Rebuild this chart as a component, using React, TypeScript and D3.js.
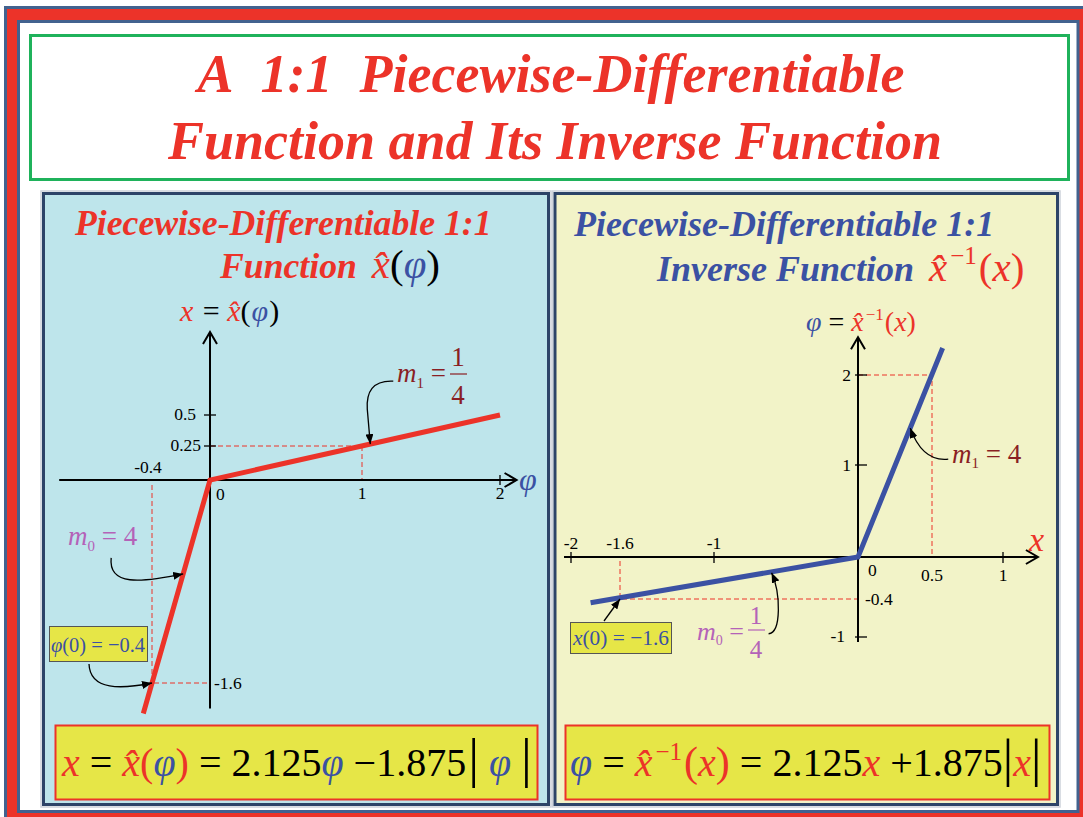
import React from 'react';
import * as d3 from 'd3';

// ---------- data ----------
// forward function x = x̂(φ) (left panel)
const fwdPhi = [-0.46, 0, 2];
const fwdX = [-1.84, 0, 0.5];
const leftPhiTicks = [-0.4, 0, 1, 2];
const leftPhiLabels = ['-0.4', '0', '1', '2'];
const leftXTicks = [-1.6, 0.25, 0.5];
const leftXLabels = ['-1.6', '0.25', '0.5'];
// inverse function φ = x̂⁻¹(x) (right panel)
const invX = [-1.84, 0, 0.575];
const invPhi = [-0.46, 0, 2.3];
const rightXTicks = [-2, -1.6, -1, 0, 0.5, 1];
const rightXLabels = ['-2', '-1.6', '-1', '0', '0.5', '1'];
const rightPhiTicks = [-1, -0.4, 1, 2];
const rightPhiLabels = ['-1', '-0.4', '1', '2'];

const SERIF = '"Liberation Serif", "Times New Roman", Times, serif';
const RED = '#ec3329';
const BLUE = '#3b51a3';
const DRED = '#8a1f24';
const PURPLE = '#b462b8';
const NAVY = '#2d4468';
const FRAME = '#42628f';
const YEL = '#e6e647';

type Seg = { t: string; fill?: string; it?: boolean; b?: boolean; fs?: number; dx?: number; dy?: number };

function Txt({ x, y, fs, segs, anchor = 'start', tl }: { x: number; y: number; fs: number; segs: Seg[]; anchor?: string; tl?: number }) {
  return (
    <text x={x} y={y} fontSize={fs} fontFamily={SERIF} textAnchor={anchor as any} style={{ whiteSpace: 'pre' }}
      textLength={tl} lengthAdjust={tl ? 'spacingAndGlyphs' : undefined}>
      {segs.map((s, i) => (
        <tspan key={i} fill={s.fill ?? '#000'} fontStyle={s.it ? 'italic' : 'normal'} fontWeight={s.b ? 'bold' : 'normal'}
          fontSize={s.fs} dx={s.dx} dy={s.dy}>{s.t}</tspan>
      ))}
    </text>
  );
}

// x with a hat, as one glyph cluster (x + combining circumflex)
const xhat = (fs: number, color: string): Seg[] => [
  { t: 'x\u0302', fill: color, it: true, fs },
];

const PHI = '\u03C6';
const MINUS = '\u2212';

export default function App() {
  // scales (hand-drawn spacing → polylinear)
  const lx = d3.scaleLinear().domain([-0.4, 0, 1, 2]).range([152, 210, 362, 500]);
  const ly = d3.scaleLinear().domain([-1.6, 0, 0.25, 0.5]).range([683, 480, 446, 415]);
  const rx = d3.scaleLinear().domain([-2, -1.6, -1, 0, 0.5, 1]).range([571, 620, 714, 858, 932, 1003]);
  const ry = d3.scaleLinear().domain([-1, -0.4, 0, 1, 2]).range([637, 599, 557, 465, 375]);

  const line = d3.line<[number, number]>();
  const fwdPath = line(fwdPhi.map((p, i) => [lx(p), ly(fwdX[i])] as [number, number]))!;
  const invPath = line(invX.map((v, i) => [rx(v), ry(invPhi[i])] as [number, number]))!;

  const lx0 = lx(0), ly0 = ly(0);
  const rx0 = rx(0), ry0 = ry(0);

  const lxAxisL = lx(-1.04), lxAxisR = lx(2.12);
  const lyAxisB = ly(-1.8), lyAxisT = ly(1.17);
  const rxAxisL = rx(-2.057), rxAxisR = rx(1.246);
  const ryAxisB = ry(-1.08), ryAxisT = ry(2.42);

  const dash = { stroke: RED, strokeWidth: 1, strokeDasharray: '5,3', fill: 'none' };
  const ann = { stroke: '#000', strokeWidth: 1.3, fill: 'none', markerEnd: 'url(#tri)' };

  // annotation targets on the curves
  const tM1L: [number, number] = [lx(1.06), ly(0.265)];
  const tM0L: [number, number] = [lx(-0.185), ly(-0.74)];
  const tP0: [number, number] = [lx(-0.4), ly(-1.6)];
  const tX0: [number, number] = [rx(-1.6), ry(-0.4)];
  const tM1R: [number, number] = [rx(0.353), ry(1.41)];
  const tM0R: [number, number] = [rx(-0.6), ry(-0.15)];

  const leftTickLabelPos = (i: number): [number, number, string] => {
    const v = leftPhiTicks[i];
    if (i === 0) return [lx(v) - 4, ly0 - 7, 'middle'];
    if (i === 1) return [lx(v) + 6, ly0 + 20, 'start'];
    return [lx(v), ly0 + 19, 'middle'];
  };
  const leftYLabelPos = (i: number): [number, number, string] => {
    const v = leftXTicks[i];
    if (v < 0) return [lx0 + 4, ly(v) + 6, 'start'];
    if (v === 0.25) return [lx0 - 9, ly(v) + 5, 'end'];
    return [lx0 - 14, ly(v) + 5, 'end'];
  };
  const rightXLabelPos = (i: number): [number, number, string] => {
    const v = rightXTicks[i];
    if (v < 0) return [rx(v), ry0 - 8, 'middle'];
    if (v === 0) return [rx0 + 10, ry0 + 19, 'start'];
    return [rx(v), ry0 + 24, 'middle'];
  };
  const rightYLabelPos = (i: number): [number, number, string] => {
    const v = rightPhiTicks[i];
    if (v === -0.4) return [rx0 + 7, ry(v) + 6, 'start'];
    if (v === -1) return [rx0 - 13, ry(v) + 5, 'end'];
    return [rx0 - 7, ry(v) + 6, 'end'];
  };

  return (
    <svg width={1083} height={817} style={{ position: 'absolute', left: 0, top: 0 }} fontFamily={SERIF}>
      <defs>
        <marker id="tri" viewBox="0 0 10 8" refX="10" refY="4" markerWidth="10" markerHeight="8" markerUnits="userSpaceOnUse" orient="auto">
          <path d="M0,0 L10,4 L0,8 Z" fill="#000" />
        </marker>
      </defs>
      {/* outer frame */}
      <rect x={5.5} y={7.5} width={1100} height={830} fill={RED} stroke={FRAME} strokeWidth={3} />
      <rect x={18.5} y={21.5} width={1059.5} height={790} fill="#fff" stroke={FRAME} strokeWidth={3} />

      {/* title box */}
      <rect x={30.5} y={35.5} width={1038} height={144} fill="#fff" stroke="#1fb25b" strokeWidth={3} />
      <text x={551} y={92} textAnchor="middle" fontSize={54} fontWeight="bold" fontStyle="italic" fill={RED}>
        {'A\u00a0\u00a01:1\u00a0\u00a0Piecewise-Differentiable'}
      </text>
      <text x={555} y={159} textAnchor="middle" fontSize={54} fontWeight="bold" fontStyle="italic" fill={RED}>
        Function and Its Inverse Function
      </text>

      {/* panels */}
      <rect x={41} y={191} width={510} height={616} fill="none" stroke="#cdd2da" strokeWidth={1.5} />
      <rect x={43.5} y={193.5} width={505} height={611} fill="#bee5eb" stroke={NAVY} strokeWidth={3} />
      <rect x={552.5} y={191} width={507.5} height={616} fill="none" stroke="#cdd2da" strokeWidth={1.5} />
      <rect x={555} y={193.5} width={502.5} height={611} fill="#f2f3c8" stroke={NAVY} strokeWidth={3} />

      {/* ---------- LEFT PANEL ---------- */}
      <text x={75} y={235} fontSize={35.7} fontWeight="bold" fontStyle="italic" fill={RED}>Piecewise-Differentiable 1:1</text>
      <Txt x={220} y={278} fs={41} segs={[
        { t: 'Function', fill: RED, b: true, it: true, fs: 35.7 },
        { t: ' ', fs: 35.7, dx: 6 },
        ...xhat(41, RED),
        { t: '(' },
        { t: PHI, fill: BLUE, it: true },
        { t: ')' },
      ]} />
      <Txt x={180} y={321} fs={30} segs={[
        { t: 'x', fill: RED, it: true },
        { t: ' = ', dx: 2 },
        ...xhat(30, RED),
        { t: '(' },
        { t: PHI, fill: BLUE, it: true, dx: 1 },
        { t: ')', dx: 1 },
      ]} />

      {/* dashed guides */}
      <path d={`M${lx0},${ly(0.25)} H${lx(1)} V${ly0}`} style={dash as any} />
      <path d={`M${lx(-0.4)},${ly0 + 5} V${ly(-1.6)} H${lx0}`} style={dash as any} />

      {/* axes */}
      <g stroke="#000" strokeWidth={2} fill="none">
        <line x1={lxAxisL} x2={lxAxisR} y1={ly0} y2={ly0} />
        <path d={`M${lxAxisR - 12},${ly0 - 7} L${lxAxisR},${ly0} L${lxAxisR - 12},${ly0 + 7}`} />
        <line x1={lx0} x2={lx0} y1={lyAxisB} y2={lyAxisT} />
        <path d={`M${lx0 - 7},${lyAxisT + 12} L${lx0},${lyAxisT} L${lx0 + 7},${lyAxisT + 12}`} />
      </g>
      <g stroke="#000" strokeWidth={1.3}>
        <line x1={lx(2)} x2={lx(2)} y1={ly0 - 5} y2={ly0 + 5} />
        {leftXTicks.filter(v => v > 0).map(v => (
          <line key={v} x1={lx0 - 6} x2={lx0 + 6} y1={ly(v)} y2={ly(v)} />
        ))}
      </g>
      <g fontSize={17.5} fill="#000">
        {leftPhiLabels.map((s, i) => {
          const [x, y, a] = leftTickLabelPos(i);
          return <text key={s} x={x} y={y} textAnchor={a as any}>{s}</text>;
        })}
        {leftXLabels.map((s, i) => {
          const [x, y, a] = leftYLabelPos(i);
          return <text key={s} x={x} y={y} textAnchor={a as any}>{s}</text>;
        })}
      </g>
      <text x={519} y={490} fontSize={32} fontStyle="italic" fill={BLUE}>{PHI}</text>

      {/* function line */}
      <path d={fwdPath} fill="none" stroke={RED} strokeWidth={5} />

      {/* annotations */}
      <Txt x={397} y={382} fs={27} segs={[{ t: 'm', fill: DRED, it: true }, { t: '1', fill: DRED, fs: 15, dy: 6 }, { t: ' =', fill: DRED, dy: -6 }]} />
      <text x={458} y={366} fontSize={27} fill={DRED} textAnchor="middle">1</text>
      <line x1={450} x2={467} y1={374} y2={374} stroke={DRED} strokeWidth={1.2} />
      <text x={458} y={404} fontSize={27} fill={DRED} textAnchor="middle">4</text>
      <path d={`M${tM1L[0] + 23},${tM1L[1] - 63} C${tM1L[0] + 2},${tM1L[1] - 64} ${tM1L[0] - 4},${tM1L[1] - 52} ${tM1L[0] - 3},${tM1L[1] - 35} L${tM1L[0]},${tM1L[1]}`} style={ann as any} />

      <Txt x={68} y={545} fs={27} segs={[{ t: 'm', fill: PURPLE, it: true }, { t: '0', fill: PURPLE, fs: 15, dy: 6 }, { t: ' = 4', fill: PURPLE, dy: -6 }]} />
      <path d={`M${tM0L[0] - 72},${tM0L[1] - 16} C${tM0L[0] - 75},${tM0L[1] + 12} ${tM0L[0] - 43},${tM0L[1] + 9} ${tM0L[0]},${tM0L[1]}`} style={ann as any} />

      <rect x={49.5} y={626.5} width={98} height={35} fill={YEL} stroke="#555" strokeWidth={1} />
      <Txt x={51} y={652} fs={22} tl={94} segs={[{ t: PHI, fill: BLUE, it: true }, { t: '(0) = ' + MINUS + '0.4', fill: BLUE }]} />
      <path d={`M${tP0[0] - 63},${tP0[1] - 19} C${tP0[0] - 62},${tP0[1] + 8} ${tP0[0] - 30},${tP0[1] + 6} ${tP0[0]},${tP0[1]}`} style={ann as any} />

      {/* formula */}
      <rect x={55.5} y={725.5} width={482} height={74} fill={YEL} stroke={RED} strokeWidth={2} />
      <Txt x={62} y={776} fs={40} segs={[
        { t: 'x', fill: RED, it: true },
        { t: ' = ' },
        ...xhat(40, RED),
        { t: '(', fill: RED },
        { t: PHI, fill: BLUE, it: true },
        { t: ')', fill: RED },
        { t: ' = 2.125' },
        { t: PHI, fill: BLUE, it: true },
        { t: ' ' + MINUS + '1.875' },
        { t: '|', fs: 54, dx: 2 },
        { t: ' ' + PHI + ' ', fill: BLUE, it: true },
        { t: '|', fs: 54 },
      ]} />

      {/* ---------- RIGHT PANEL ---------- */}
      <text x={574} y={236} fontSize={36} fontWeight="bold" fontStyle="italic" fill={BLUE}>Piecewise-Differentiable 1:1</text>
      <Txt x={657} y={281} fs={41} segs={[
        { t: 'Inverse Function', fill: BLUE, b: true, it: true, fs: 36 },
        { t: ' ', fs: 36, dx: 6 },
        ...xhat(41, RED),
        { t: MINUS + '1', fill: RED, fs: 25, dx: 3, dy: -17 },
        { t: '(', fill: RED, dx: 2, dy: 17 },
        { t: 'x', fill: RED, it: true },
        { t: ')', fill: RED },
      ]} />
      <Txt x={806} y={331} fs={28} segs={[
        { t: PHI, fill: BLUE, it: true },
        { t: ' = ' },
        ...xhat(28, RED),
        { t: MINUS + '1', fill: RED, fs: 17, dx: 2, dy: -11 },
        { t: '(', fill: RED, dx: 1, dy: 11 },
        { t: 'x', fill: RED, it: true },
        { t: ')', fill: RED },
      ]} />

      <path d={`M${rx0},${ry(2)} H${rx(0.5)} V${ry0}`} style={dash as any} />
      <path d={`M${rx(-1.6)},${ry0 + 4} V${ry(-0.4)} H${rx0}`} style={dash as any} />

      <g stroke="#000" strokeWidth={2} fill="none">
        <line x1={rxAxisL} x2={rxAxisR} y1={ry0} y2={ry0} />
        <path d={`M${rxAxisR - 12},${ry0 - 7} L${rxAxisR},${ry0} L${rxAxisR - 12},${ry0 + 7}`} />
        <line x1={rx0} x2={rx0} y1={ryAxisB} y2={ryAxisT} />
        <path d={`M${rx0 - 7},${ryAxisT + 12} L${rx0},${ryAxisT} L${rx0 + 7},${ryAxisT + 12}`} />
      </g>
      <g stroke="#000" strokeWidth={1.3}>
        {rightXTicks.filter(v => v === -2 || v === -1 || v === 1).map(v => (
          <line key={v} x1={rx(v)} x2={rx(v)} y1={ry0 - 5} y2={ry0 + 6} />
        ))}
        {rightPhiTicks.filter(v => v !== -0.4).map(v => (
          <line key={v} x1={rx0 - 3} x2={rx0 + 9} y1={ry(v)} y2={ry(v)} />
        ))}
      </g>
      <g fontSize={17.5} fill="#000">
        {rightXLabels.map((s, i) => {
          const [x, y, a] = rightXLabelPos(i);
          return <text key={s} x={x} y={y} textAnchor={a as any}>{s}</text>;
        })}
        {rightPhiLabels.map((s, i) => {
          const [x, y, a] = rightYLabelPos(i);
          return <text key={s} x={x} y={y} textAnchor={a as any}>{s}</text>;
        })}
      </g>
      <text x={1029} y={551} fontSize={34} fontStyle="italic" fill={RED}>x</text>

      <path d={invPath} fill="none" stroke={BLUE} strokeWidth={5} />

      <Txt x={952} y={463} fs={27} segs={[{ t: 'm', fill: DRED, it: true }, { t: '1', fill: DRED, fs: 15, dy: 5 }, { t: ' = 4', fill: DRED, dy: -5 }]} />
      <path d={`M${tM1R[0] + 38},${tM1R[1] + 31} C${tM1R[0] + 20},${tM1R[1] + 33} ${tM1R[0] + 8},${tM1R[1] + 22} ${tM1R[0]},${tM1R[1]}`} style={ann as any} />

      <Txt x={697} y={640} fs={26} segs={[{ t: 'm', fill: PURPLE, it: true }, { t: '0', fill: PURPLE, fs: 14, dy: 5 }, { t: ' =', fill: PURPLE, dy: -5 }]} />
      <text x={756} y={624} fontSize={25} fill={PURPLE} textAnchor="middle">1</text>
      <line x1={748} x2={765} y1={630} y2={630} stroke={PURPLE} strokeWidth={1.2} />
      <text x={756} y={658} fontSize={25} fill={PURPLE} textAnchor="middle">4</text>
      <path d={`M${tM0R[0] - 3},${tM0R[1] + 61} C${tM0R[0] + 10},${tM0R[1] + 60} ${tM0R[0] + 9},${tM0R[1] + 20} ${tM0R[0]},${tM0R[1]}`} style={ann as any} />

      <rect x={570.5} y={622.5} width={101} height={31} fill={YEL} stroke="#555" strokeWidth={1} />
      <Txt x={573} y={645} fs={22} tl={96} segs={[{ t: 'x', fill: BLUE, it: true }, { t: '(0) = ' + MINUS + '1.6', fill: BLUE }]} />
      <path d={`M${tX0[0] - 16},${tX0[1] + 22} L${tX0[0]},${tX0[1]}`} style={ann as any} />

      <rect x={565.5} y={725.5} width={484} height={74} fill={YEL} stroke={RED} strokeWidth={2} />
      <Txt x={570} y={776} fs={40} segs={[
        { t: PHI, fill: BLUE, it: true },
        { t: ' = ' },
        ...xhat(40, RED),
        { t: MINUS + '1', fill: RED, fs: 25, dx: 3, dy: -16 },
        { t: '(', fill: RED, dx: 2, dy: 16, fs: 42 },
        { t: 'x', fill: RED, it: true },
        { t: ')', fill: RED, fs: 42 },
        { t: ' = 2.125' },
        { t: 'x', fill: RED, it: true },
        { t: ' +1.875' },
        { t: '|', fs: 52 },
        { t: 'x', fill: RED, it: true },
        { t: '|', fs: 52 },
      ]} />
    </svg>
  );
}
